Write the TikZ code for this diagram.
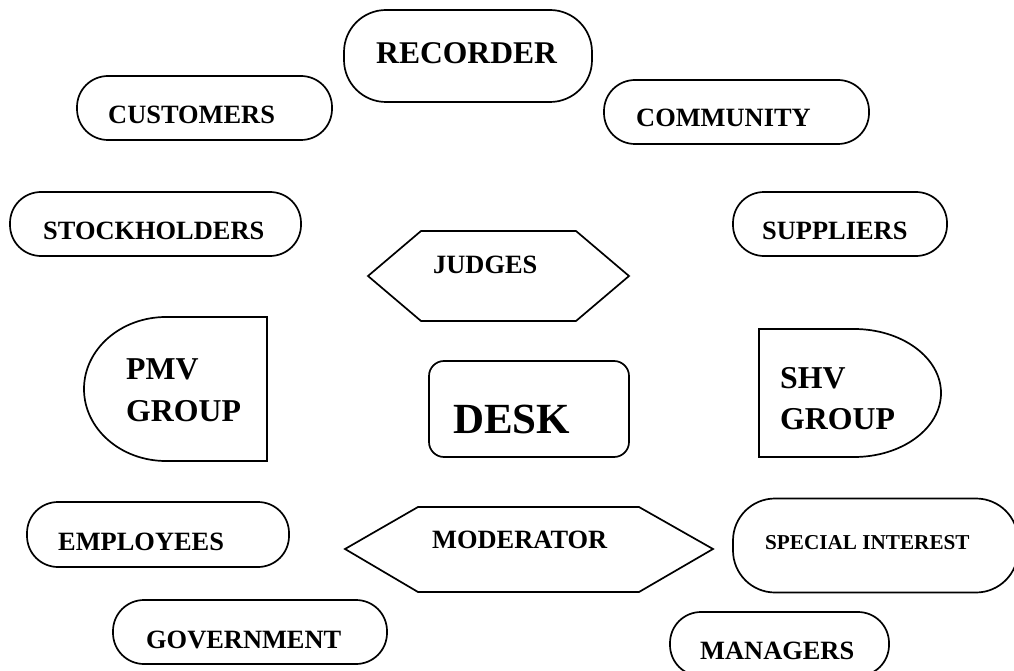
\documentclass[tikz,border=0pt]{standalone}
\usepackage{fontspec}
\setmainfont{Liberation Serif}
\begin{document}
\begin{tikzpicture}[x=1pt,y=-1pt,
  shp/.style={draw=black,line width=1.7pt},
  pill/.style={shp,rectangle,rounded corners=#1,inner sep=0pt},
  lbl/.style={anchor=base west,inner sep=0pt,font=\bfseries\fontsize{26.4}{30}\selectfont},
  lblbig/.style={anchor=base west,inner sep=0pt,font=\bfseries\fontsize{31.8}{36}\selectfont},
  lblsmall/.style={anchor=base west,inner sep=0pt,font=\bfseries\fontsize{21.2}{24}\selectfont},
  lbldesk/.style={anchor=base west,inner sep=0pt,font=\bfseries\fontsize{43}{48}\selectfont}]
\useasboundingbox (0,0) rectangle (1014,671);
\clip (0,0) rectangle (1014,671);
\fill[white] (0,0) rectangle (1014,671);

% rounded boxes
\node[pill=42pt,minimum width=248pt,minimum height=92pt] (recorder) at (468,56) {};
\node[pill=31pt,minimum width=255pt,minimum height=64pt] (customers) at (204.5,108) {};
\node[pill=31pt,minimum width=265pt,minimum height=64pt] (community) at (736.5,112) {};
\node[pill=31pt,minimum width=291pt,minimum height=64pt] (stockholders) at (155.5,224) {};
\node[pill=31pt,minimum width=214pt,minimum height=64pt] (suppliers) at (840,224) {};
\node[pill=15pt,minimum width=200pt,minimum height=96pt] (desk) at (529,409) {};
\node[pill=31pt,minimum width=262pt,minimum height=65pt] (employees) at (158,534.5) {};
\node[pill=31pt,minimum width=274pt,minimum height=64pt] (government) at (250,632) {};
\node[pill=42pt,minimum width=285pt,minimum height=94pt] (special) at (875.5,545.5) {};
\node[pill=31pt,minimum width=219pt,minimum height=64pt] (managers) at (779.5,644) {};

% hexagons
\draw[shp,line join=miter] (368,276) -- (421,231) -- (576,231) -- (629,276) -- (576,321) -- (421,321) -- cycle;
\draw[shp,line join=miter] (345,549) -- (418,507) -- (639,507) -- (713,549) -- (639,592) -- (418,592) -- cycle;

% D shapes
\draw[shp] (267,317) -- (166,317) .. controls (120.7,317) and (84,349.2) .. (84,389)
  .. controls (84,428.8) and (120.7,461) .. (166,461) -- (267,461) -- cycle;
\draw[shp] (759,329) -- (854,329) .. controls (902,329) and (941,357.7) .. (941,393)
  .. controls (941,428.3) and (902,457) .. (854,457) -- (759,457) -- cycle;

% labels
\node[lblbig,font=\bfseries\fontsize{31.6}{36}\selectfont] (t-recorder) at (376,64) {RECORDER};
\node[lbl] (t-customers) at (108,124) {CUSTOMERS};
\node[lbl] (t-community) at (636,127) {COMMUNITY};
\node[lbl] (t-stockholders) at (43,239) {STOCKHOLDERS};
\node[lbl] (t-suppliers) at (762,239) {SUPPLIERS};
\node[lbl] (t-judges) at (433,273) {JUDGES};
\node[lblbig] (t-pmv1) at (126,379) {PMV};
\node[lblbig] (t-pmv2) at (126,421) {GROUP};
\node[lbldesk] (t-desk) at (453,433) {DESK};
\node[lblbig] (t-shv1) at (780,388) {SHV};
\node[lblbig] (t-shv2) at (780,429) {GROUP};
\node[lbl] (t-employees) at (58,550) {EMPLOYEES};
\node[lbl] (t-moderator) at (432,548) {MODERATOR};
\node[lblsmall] (t-special) at (765,549) {SPECIAL INTEREST};
\node[lbl] (t-government) at (146,648) {GOVERNMENT};
\node[lbl] (t-managers) at (700,659) {MANAGERS};
\end{tikzpicture}
\end{document}
